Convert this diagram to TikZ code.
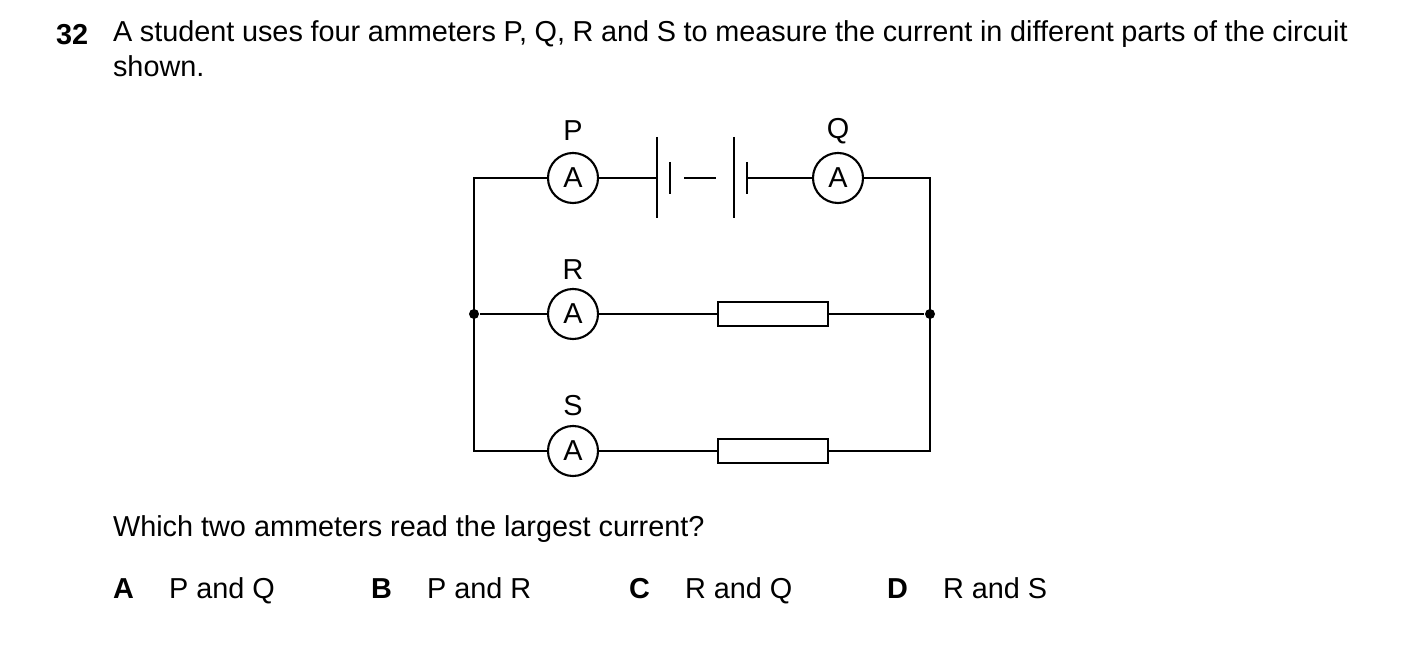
\documentclass[tikz,border=0pt]{standalone}
\usepackage{fontspec}
\setmainfont{Liberation Sans}
\begin{document}
\begin{tikzpicture}[x=0.01cm,y=-0.01cm,line width=0.6pt,
  amm/.style={circle,draw,minimum size=0.5cm,inner sep=0pt,font=\fontsize{8.2}{9.8}\selectfont,fill=white},
  lbl/.style={font=\fontsize{8.2}{9.8}\selectfont},
  res/.style={draw,fill=white,minimum width=1.1cm,minimum height=0.24cm,inner sep=0pt},
  txt/.style={font=\fontsize{8.2}{9.8}\selectfont,anchor=base west,inner sep=0pt},
  dot/.style={circle,fill,inner sep=0pt,minimum size=0.1cm}]
\useasboundingbox (0,0) rectangle (1403,652);
\node[txt,font=\fontsize{8.2}{9.8}\selectfont\bfseries] (n) at (55,45) {32};
\node[txt,text width=12.34cm,align=justify,anchor=north west] (q) at (112,20) {A student uses four ammeters P, Q, R and S to measure the current in different parts of the circuit shown.};
% circuit corners
\coordinate (tl) at (474,178); \coordinate (tr) at (930,178);
\node[dot] (ml) at (474,314) {}; \node[dot] (mr) at (930,314) {};
\coordinate (bl) at (474,451); \coordinate (br) at (930,451);
\node[amm] (P) at (573,178) {A};
\node[amm] (Q) at (838,178) {A};
\node[amm] (R) at (573,314) {A};
\node[amm] (S) at (573,451) {A};
\node[lbl] at (573,131) {P};
\node[lbl] at (838,131) {Q};
\node[lbl] at (573,270) {R};
\node[lbl] at (573,406) {S};
\node[res] (r1) at (773,314) {};
\node[res] (r2) at (773,451) {};
% battery
\coordinate (b1) at (657,178); \coordinate (b2) at (670,178);
\coordinate (b3) at (734,178); \coordinate (b4) at (747,178);
\draw (b1 |- 0,137) -- (b1 |- 0,218);
\draw (b2 |- 0,162) -- (b2 |- 0,194);
\draw (b3 |- 0,137) -- (b3 |- 0,218);
\draw (b4 |- 0,162) -- (b4 |- 0,194);
\draw[dash pattern=on 9pt off 5pt] ([xshift=4]b2) -- (b3);
\draw (P) -- (b1);
\draw (b4) -- (Q);
\draw (Q) -- (tr) -- (br) -- (r2) -- (S) -- (bl) -- (tl) -- (P);
\draw (ml) -- (R) -- (r1) -- (mr);
\node[txt] (w) at (112,537) {Which two ammeters read the largest current?};
\node[txt,font=\fontsize{8.2}{9.8}\selectfont\bfseries] (oa) at (112,598) {A};
\node[txt] (ta) at (168,598) {P and Q};
\node[txt,font=\fontsize{8.2}{9.8}\selectfont\bfseries] (ob) at (370,598) {B};
\node[txt] (tb) at (426,598) {P and R};
\node[txt,font=\fontsize{8.2}{9.8}\selectfont\bfseries] (oc) at (628,598) {C};
\node[txt] (tc) at (684,598) {R and Q};
\node[txt,font=\fontsize{8.2}{9.8}\selectfont\bfseries] (od) at (886,598) {D};
\node[txt] (td) at (942,598) {R and S};
\end{tikzpicture}
\end{document}
